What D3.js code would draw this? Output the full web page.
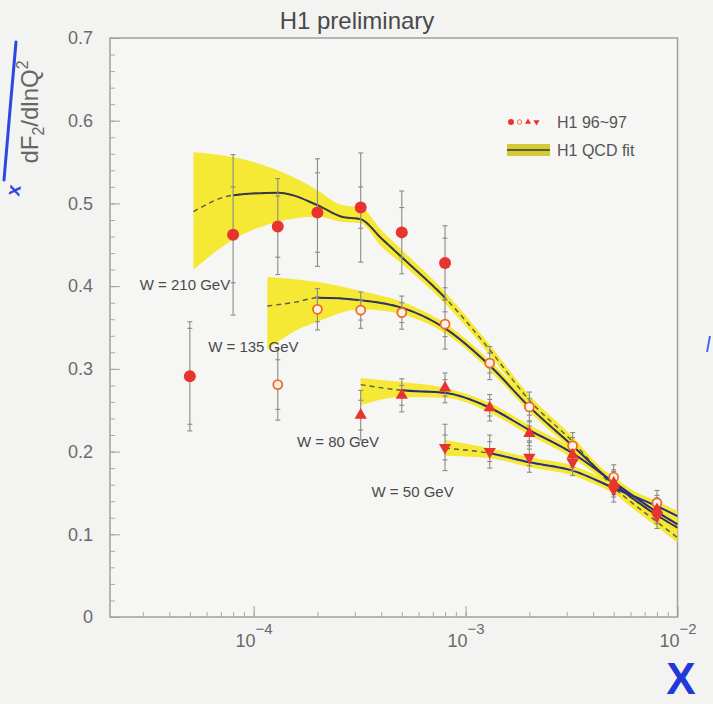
<!DOCTYPE html>
<html>
<head>
<meta charset="utf-8">
<script src="https://cdn.jsdelivr.net/npm/d3@7"></script>
<style>
  html, body { margin: 0; padding: 0; background: #f3f3f1; }
  svg { display: block; }
</style>
</head>
<body>
<div id="chart"></div>
<script>
// ---------------- DATA ----------------
const title = "H1 preliminary";
const yTicksMajor = [0, 0.1, 0.2, 0.3, 0.4, 0.5, 0.6, 0.7];
const yTickLabels = ["0", "0.1", "0.2", "0.3", "0.4", "0.5", "0.6", "0.7"];
const xTicksMajor = [1e-4, 1e-3, 1e-2];
const xTickExponents = ["\u22124", "\u22123", "\u22122"];
const legendLabels = ["H1 96~97", "H1 QCD fit"];
const wLabels = ["W = 210 GeV", "W = 135 GeV", "W = 80 GeV", "W = 50 GeV"];

// measured points (H1 96-97)
const x210 = [5e-5, 8e-5, 1.3e-4, 2e-4, 3.2e-4, 5e-4, 8e-4];
const f210 = [0.291, 0.462, 0.472, 0.489, 0.495, 0.465, 0.428];
const e210 = [0.066, 0.097, 0.058, 0.065, 0.066, 0.050, 0.045];
const s210 = [0.058, 0.058, 0.037, 0.048, 0.025, 0.030, 0.030];

const x135 = [1.3e-4, 2e-4, 3.2e-4, 5e-4, 8e-4, 1.3e-3, 2e-3, 3.2e-3, 5e-3, 8e-3];
const f135 = [0.281, 0.372, 0.371, 0.368, 0.354, 0.307, 0.254, 0.207, 0.169, 0.138];
const e135 = [0.043, 0.025, 0.022, 0.020, 0.030, 0.020, 0.018, 0.016, 0.015, 0.015];
const s135 = [0.030, 0.015, 0.012, 0.012, 0.015, 0.012, 0.010, 0.010, 0.009, 0.009];

const x80 = [3.2e-4, 5e-4, 8e-4, 1.3e-3, 2e-3, 3.2e-3, 5e-3, 8e-3];
const f80 = [0.244, 0.268, 0.277, 0.253, 0.222, 0.196, 0.162, 0.130];
const e80 = [0.030, 0.020, 0.018, 0.016, 0.015, 0.015, 0.014, 0.014];
const s80 = [0.018, 0.012, 0.010, 0.010, 0.009, 0.009, 0.008, 0.008];

const x50 = [8e-4, 1.3e-3, 2e-3, 3.2e-3, 5e-3, 8e-3];
const f50 = [0.205, 0.200, 0.193, 0.187, 0.154, 0.122];
const e50 = [0.028, 0.020, 0.018, 0.016, 0.015, 0.015];
const s50 = [0.015, 0.012, 0.010, 0.010, 0.009, 0.009];

// QCD fit: central curve and error band
const fitX210 = [5.2e-5, 8e-5, 1.3e-4, 2e-4, 2.6e-4, 3.2e-4, 4e-4, 5e-4, 8e-4, 1.3e-3, 2e-3, 3.2e-3, 5e-3, 8e-3, 1e-2];
const fitC210 = [0.490, 0.510, 0.513, 0.498, 0.484, 0.481, 0.458, 0.435, 0.386, 0.323, 0.262, 0.212, 0.157, 0.115, 0.096];
const fitHi210 = [0.562, 0.556, 0.540, 0.516, 0.498, 0.495, 0.468, 0.444, 0.393, 0.329, 0.268, 0.218, 0.163, 0.121, 0.102];
const fitLo210 = [0.420, 0.456, 0.478, 0.484, 0.478, 0.476, 0.448, 0.427, 0.379, 0.317, 0.256, 0.206, 0.151, 0.109, 0.090];

const fitX135 = [1.16e-4, 1.6e-4, 2e-4, 3.2e-4, 5e-4, 8e-4, 1.3e-3, 2e-3, 3.2e-3, 5e-3, 8e-3, 1e-2];
const fitC135 = [0.376, 0.381, 0.386, 0.383, 0.374, 0.349, 0.304, 0.254, 0.207, 0.161, 0.123, 0.108];
const fitHi135 = [0.411, 0.408, 0.405, 0.394, 0.381, 0.355, 0.310, 0.260, 0.213, 0.167, 0.129, 0.114];
const fitLo135 = [0.323, 0.347, 0.357, 0.372, 0.366, 0.343, 0.298, 0.248, 0.201, 0.155, 0.117, 0.102];

const fitX80 = [3.2e-4, 5e-4, 8e-4, 1.3e-3, 2e-3, 3.2e-3, 5e-3, 8e-3, 1e-2];
const fitC80 = [0.281, 0.274, 0.271, 0.253, 0.226, 0.198, 0.163, 0.127, 0.112];
const fitHi80 = [0.289, 0.284, 0.277, 0.259, 0.232, 0.204, 0.169, 0.133, 0.118];
const fitLo80 = [0.256, 0.266, 0.265, 0.247, 0.220, 0.192, 0.157, 0.121, 0.106];

const fitX50 = [8e-4, 1.3e-3, 2e-3, 3.2e-3, 5e-3, 8e-3, 1e-2];
const fitC50 = [0.204, 0.198, 0.187, 0.177, 0.156, 0.134, 0.122];
const fitHi50 = [0.214, 0.204, 0.193, 0.183, 0.162, 0.140, 0.128];
const fitLo50 = [0.195, 0.192, 0.181, 0.171, 0.150, 0.128, 0.116];

// x range in which each fit is drawn solid (dashed elsewhere)
const solidFrom = [8e-5, 2e-4, 5e-4, 1.3e-3];
const solidTo = [8e-4, 1e-2, 1e-2, 1e-2];

// ---------------- BUILD ----------------
const W = 713, H = 704;
const svg = d3.select("#chart").append("svg").attr("width", W).attr("height", H);
svg.append("rect").attr("width", W).attr("height", H).attr("fill", "#f3f3f1");

const x = d3.scaleLog().domain([2.1e-5, 1e-2]).range([110, 677.5]);
const y = d3.scaleLinear().domain([0, 0.7]).range([617, 38]);

const FONT = "'Liberation Sans', Arial, sans-serif";

const series = [
  { px: x210, py: f210, pe: e210, ps: s210, fx: fitX210, fc: fitC210, fh: fitHi210, fl: fitLo210, sym: "circle", line: "#3a3a44" },
  { px: x135, py: f135, pe: e135, ps: s135, fx: fitX135, fc: fitC135, fh: fitHi135, fl: fitLo135, sym: "open", line: "#35345c" },
  { px: x80,  py: f80,  pe: e80,  ps: s80,  fx: fitX80,  fc: fitC80,  fh: fitHi80,  fl: fitLo80,  sym: "tri", line: "#2c2c78" },
  { px: x50,  py: f50,  pe: e50,  ps: s50,  fx: fitX50,  fc: fitC50,  fh: fitHi50,  fl: fitLo50,  sym: "tridown", line: "#2a2f8a" }
];

// plot frame
svg.append("rect")
  .attr("x", x.range()[0]).attr("y", y.range()[1])
  .attr("width", x.range()[1] - x.range()[0]).attr("height", y.range()[0] - y.range()[1])
  .attr("fill", "#f6f6f4").attr("stroke", "#a0a09c").attr("stroke-width", 1.5);

// clip paths for solid segments
const defs = svg.append("defs");
series.forEach((s, i) => {
  defs.append("clipPath").attr("id", "solid" + i)
    .append("rect")
    .attr("x", x(solidFrom[i])).attr("y", 0)
    .attr("width", x(solidTo[i]) - x(solidFrom[i])).attr("height", H);
});

const area = d3.area().curve(d3.curveMonotoneX);
const line = d3.line().curve(d3.curveMonotoneX);

// bands
series.forEach(s => {
  const pts = s.fx.map((v, k) => [x(v), y(s.fl[k]), y(s.fh[k])]);
  svg.append("path")
    .attr("d", area.x(d => d[0]).y0(d => d[1]).y1(d => d[2])(pts))
    .attr("fill", "#f4e82a").attr("opacity", 0.95);
});

// fit lines
series.forEach((s, i) => {
  const pts = s.fx.map((v, k) => [x(v), y(s.fc[k])]);
  svg.append("path").attr("d", line(pts))
    .attr("fill", "none").attr("stroke", "#5a5a50").attr("stroke-width", 1.4)
    .attr("stroke-dasharray", "5,4");
  svg.append("path").attr("d", line(pts))
    .attr("clip-path", `url(#solid${i})`)
    .attr("fill", "none").attr("stroke", s.line).attr("stroke-width", 2);
});

// axes
const gY = svg.append("g").attr("transform", `translate(${x.range()[0]},0)`);
gY.call(d3.axisLeft(y).tickValues(d3.range(0, 0.7001, 0.02)).tickSize(-5).tickFormat(""))
  .call(g => g.select(".domain").remove())
  .call(g => g.selectAll("line").attr("stroke", "#a8a8a4"));
const gY2 = svg.append("g").attr("transform", `translate(${x.range()[0]},0)`);
gY2.call(d3.axisLeft(y).tickValues(yTicksMajor).tickSize(-10).tickPadding(17)
    .tickFormat((d, i) => yTickLabels[i]))
  .call(g => g.select(".domain").remove())
  .call(g => g.selectAll("line").attr("stroke", "#a0a09c"))
  .call(g => g.selectAll("text").attr("font-family", FONT).attr("font-size", 18).attr("fill", "#6a6a6a"));

const minorX = [];
[1e-5, 1e-4, 1e-3].forEach(dec => { for (let m = 1; m <= 9; m++) { const v = m * dec; if (v >= x.domain()[0] && v <= 1e-2) minorX.push(v); } });
const gX = svg.append("g").attr("transform", `translate(0,${y.range()[0]})`);
gX.call(d3.axisBottom(x).tickValues(minorX).tickSize(-5).tickFormat(""))
  .call(g => g.select(".domain").remove())
  .call(g => g.selectAll("line").attr("stroke", "#a8a8a4"));
const gX2 = svg.append("g").attr("transform", `translate(0,${y.range()[0]})`);
gX2.call(d3.axisBottom(x).tickValues(xTicksMajor).tickSize(-11).tickFormat(""))
  .call(g => g.select(".domain").remove())
  .call(g => g.selectAll("line").attr("stroke", "#a0a09c"));
gX2.selectAll(".tick").each(function(d, i) {
  const t = d3.select(this).append("text")
    .attr("y", 30).attr("text-anchor", "middle")
    .attr("font-family", FONT).attr("font-size", 18).attr("fill", "#6a6a6a");
  t.append("tspan").text("10");
  t.append("tspan").attr("dy", -13).attr("font-size", 15).text(xTickExponents[i]);
});

// error bars
series.forEach(s => {
  const g = svg.append("g").attr("stroke", "#8a8a86").attr("stroke-width", 1.1);
  s.px.forEach((v, k) => {
    const cx = x(v);
    g.append("line").attr("x1", cx).attr("x2", cx)
      .attr("y1", y(s.py[k] - s.pe[k])).attr("y2", y(s.py[k] + s.pe[k]));
    [s.ps[k], -s.ps[k], s.pe[k], -s.pe[k]].forEach(dv => {
      g.append("line").attr("x1", cx - 2.5).attr("x2", cx + 2.5)
        .attr("y1", y(s.py[k] + dv)).attr("y2", y(s.py[k] + dv));
    });
  });
});

// markers
function drawMarker(g, type, cx, cy, scale) {
  const red = "#e8342e";
  if (type === "circle") {
    g.append("circle").attr("cx", cx).attr("cy", cy).attr("r", 6 * scale).attr("fill", red);
  } else if (type === "open") {
    g.append("circle").attr("cx", cx).attr("cy", cy).attr("r", 4.5 * scale)
      .attr("fill", "#fbf2e8").attr("stroke", "#ee6a2c").attr("stroke-width", 1.8 * scale);
  } else if (type === "tri") {
    g.append("path").attr("d", d3.symbol(d3.symbolTriangle, 65 * scale * scale)())
      .attr("transform", `translate(${cx},${cy})`).attr("fill", red);
  } else {
    g.append("path").attr("d", d3.symbol(d3.symbolTriangle, 65 * scale * scale)())
      .attr("transform", `translate(${cx},${cy}) rotate(180)`).attr("fill", red);
  }
}
series.forEach(s => {
  const g = svg.append("g");
  s.px.forEach((v, k) => drawMarker(g, s.sym, x(v), y(s.py[k]), 1));
});

// W annotations (anchored in data coordinates)
const wLabelAnchors = [[2.9e-5, 0.395], [6.1e-5, 0.32], [1.6e-4, 0.206], [3.6e-4, 0.145]];
wLabels.forEach((t, i) => {
  svg.append("text").attr("x", x(wLabelAnchors[i][0])).attr("y", y(wLabelAnchors[i][1]))
    .attr("font-family", FONT).attr("font-size", 15).attr("fill", "#4a4a4a").text(t);
});

// legend
const lg = svg.append("g");
["circle", "open", "tri", "tridown"].forEach((t, i) => drawMarker(lg, t, 511 + i * 8.5, 122, 0.5));
lg.append("text").attr("x", 557).attr("y", 128).attr("font-family", FONT).attr("font-size", 16)
  .attr("fill", "#555").text(legendLabels[0]);
lg.append("rect").attr("x", 507).attr("y", 144).attr("width", 43).attr("height", 12).attr("fill", "#d2cb34");
lg.append("line").attr("x1", 507).attr("x2", 550).attr("y1", 150).attr("y2", 150)
  .attr("stroke", "#3a3a30").attr("stroke-width", 1.5);
lg.append("text").attr("x", 557).attr("y", 156).attr("font-family", FONT).attr("font-size", 16)
  .attr("fill", "#555").text(legendLabels[1]);

// title
svg.append("text").attr("x", 357).attr("y", 29).attr("text-anchor", "middle")
  .attr("font-family", FONT).attr("font-size", 24).attr("fill", "#4a4a4a").text(title);

// y label
const yl = svg.append("text").attr("transform", "translate(38,112) rotate(-90)")
  .attr("text-anchor", "middle").attr("font-family", FONT).attr("font-size", 24).attr("fill", "#666");
yl.append("tspan").text("dF");
yl.append("tspan").attr("font-size", 16).attr("dy", 6).text("2");
yl.append("tspan").attr("dy", -6).text("/dlnQ");
yl.append("tspan").attr("font-size", 16).attr("dy", -10).text("2");

// hand-drawn blue annotations
svg.append("path").attr("d", "M16,42 L10,110 L4,180")
  .attr("fill", "none").attr("stroke", "#2d48e0").attr("stroke-width", 3).attr("stroke-linecap", "round");
svg.append("text").attr("transform", "translate(19,197) rotate(-80)")
  .attr("font-family", FONT).attr("font-size", 20).attr("font-weight", "bold").attr("fill", "#2d48e0").text("x");
svg.append("text").attr("x", 681).attr("y", 694).attr("text-anchor", "middle")
  .attr("font-family", FONT).attr("font-size", 44).attr("font-weight", "bold").attr("fill", "#2238d8").text("X");
svg.append("line").attr("x1", 710).attr("x2", 707).attr("y1", 336).attr("y2", 352)
  .attr("stroke", "#4a66e8").attr("stroke-width", 2);
</script>
</body>
</html>
